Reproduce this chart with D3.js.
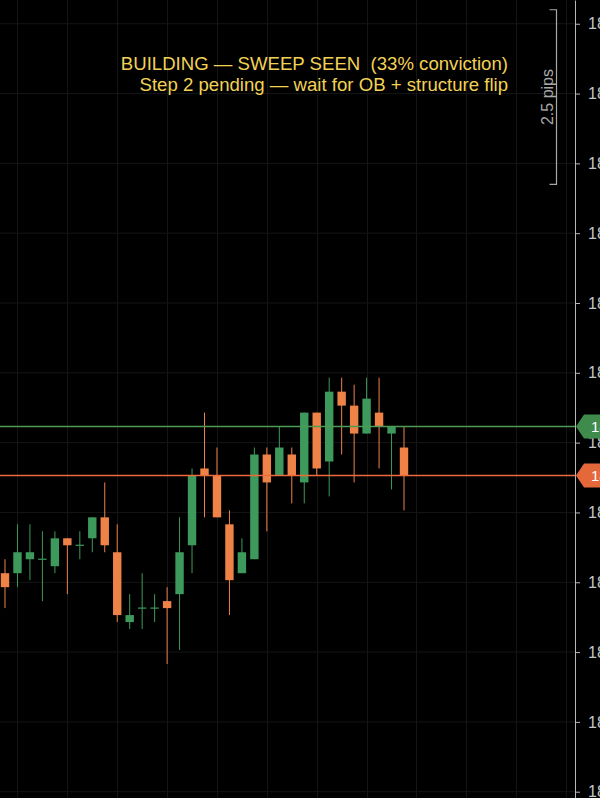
<!DOCTYPE html>
<html>
<head>
<meta charset="utf-8">
<script src="https://cdn.jsdelivr.net/npm/d3@7"></script>
<style>
  html, body { margin: 0; padding: 0; background: #000; }
  svg { display: block; }
</style>
</head>
<body>
<svg id="chart"></svg>
<script>
// candle data (price), oldest first
var opens  = [185.391,185.391,185.393,185.393,185.392,185.396,185.395,185.396,185.399,185.394,185.384,185.386,185.386,185.387,185.388,185.395,185.406,185.405,185.398,185.391,185.393,185.408,185.405,185.408,185.404,185.414,185.407,185.417,185.415,185.411,185.414,185.411,185.409];
var highs  = [185.393,185.398,185.398,185.397,185.397,185.396,185.397,185.399,185.404,185.398,185.388,185.391,185.388,185.389,185.399,185.406,185.414,185.409,185.400,185.396,185.409,185.409,185.412,185.409,185.414,185.414,185.419,185.419,185.418,185.419,185.419,185.412,185.412];
var lows   = [185.386,185.389,185.390,185.387,185.391,185.388,185.393,185.394,185.394,185.384,185.383,185.383,185.384,185.378,185.380,185.391,185.399,185.399,185.385,185.391,185.393,185.397,185.405,185.401,185.401,185.405,185.402,185.408,185.404,185.411,185.406,185.403,185.400];
var closes = [185.389,185.394,185.394,185.393,185.396,185.395,185.395,185.399,185.395,185.385,185.385,185.386,185.386,185.386,185.394,185.405,185.405,185.399,185.390,185.394,185.408,185.404,185.409,185.405,185.414,185.406,185.417,185.415,185.411,185.416,185.412,185.412,185.405];

var priceTicks = [185.3597,185.3697,185.3797,185.3897,185.3997,185.4097,185.4197,185.4297,185.4397,185.4497,185.4597,185.4697];
var levels = [185.412, 185.405];          // green, orange reference lines
var pipRange = [185.4717, 185.4467];      // 2.5 pips bracket
var titleLines = ["BUILDING \u2014 SWEEP SEEN  (33% conviction)", "Step 2 pending \u2014 wait for OB + structure flip"];

var width = 600, height = 798;
var up = "#3d9a5c", down = "#ee8247";
var lineUp = "#4e9a56", lineDown = "#ec6a3d";

var svg = d3.select("#chart").attr("width", width).attr("height", height)
  .style("background-color", "#000");

var y = d3.scaleLinear().domain([185.3588, 185.4731]).range([height, 0]);
var x = d3.scaleLinear().domain([0, 32]).range([5, 404]);
var axisX = 575;

// grid
var gridIdx = d3.range(1, 46, 4);
svg.append("g").selectAll("line").data(gridIdx).enter().append("line")
  .attr("x1", function(d){return Math.round(x(d)) + 0.5}).attr("x2", function(d){return Math.round(x(d)) + 0.5})
  .attr("y1", 0).attr("y2", height)
  .style("stroke", "#151515").style("stroke-width", 1);
svg.append("g").selectAll("line").data(priceTicks).enter().append("line")
  .attr("x1", 0).attr("x2", axisX)
  .attr("y1", function(d){return y(d)}).attr("y2", function(d){return y(d)})
  .style("stroke", "#151515").style("stroke-width", 1);

// candles
var candles = opens.map(function(o, i){
  return {i: i, o: o, h: highs[i], l: lows[i], c: closes[i]};
});
var bw = 8.4;
var g = svg.append("g");
g.selectAll("line.wick").data(candles).enter().append("line")
  .attr("class", "wick")
  .attr("x1", function(d){return x(d.i)}).attr("x2", function(d){return x(d.i)})
  .attr("y1", function(d){return y(d.h)}).attr("y2", function(d){return y(d.l)})
  .style("stroke", function(d){return d.c >= d.o ? up : down})
  .style("stroke-width", 1);
g.selectAll("rect").data(candles).enter().append("rect")
  .attr("x", function(d){return x(d.i) - bw / 2})
  .attr("y", function(d){return d.c === d.o ? y(d.o) - 0.6 : y(Math.max(d.o, d.c))})
  .attr("width", bw)
  .attr("height", function(d){return d.c === d.o ? 1.2 : Math.abs(y(d.o) - y(d.c))})
  .style("fill", function(d){return d.c >= d.o ? up : down});

// reference lines
svg.append("g").selectAll("line").data(levels).enter().append("line")
  .attr("x1", 0).attr("x2", axisX)
  .attr("y1", function(d){return y(d)}).attr("y2", function(d){return y(d)})
  .style("stroke", function(d, i){return i === 0 ? lineUp : lineDown})
  .style("stroke-width", 1.5);

// price axis
var axis = svg.append("g").attr("transform", "translate(" + axisX + ",0)")
  .call(d3.axisRight(y).tickValues(priceTicks).tickSize(5).tickSizeOuter(0).tickPadding(8).tickFormat(d3.format(".2f")));
axis.select(".domain").style("stroke", "#b8b8b8");
axis.selectAll(".tick line").style("stroke", "#b8b8b8");
axis.selectAll(".tick text").style("fill", "#c4c4c4").style("font-family", "'Liberation Sans', Arial, sans-serif").style("font-size", "16px");

// price tags
var tags = svg.append("g").selectAll("g").data(levels).enter().append("g")
  .attr("transform", function(d){return "translate(" + (axisX + 1) + "," + y(d) + ")"});
tags.append("path")
  .attr("d", "M0,0 L8,-12 L40,-12 L40,12 L8,12 Z")
  .style("fill", function(d, i){return i === 0 ? "#3f8b4b" : "#e5683b"});
tags.append("text")
  .attr("x", 15).attr("y", 5.5)
  .text(function(d){return d3.format(".3f")(d)})
  .style("fill", "#fff").style("font-family", "'Liberation Sans', Arial, sans-serif").style("font-size", "15px");

// 2.5 pips bracket
var bx = 556.5;
svg.append("path")
  .attr("d", "M" + (bx - 7) + "," + y(pipRange[0]) + " H" + bx + " V" + y(pipRange[1]) + " H" + (bx - 7))
  .style("fill", "none").style("stroke", "#a8a8a8").style("stroke-width", 1.2);
var midY = (y(pipRange[0]) + y(pipRange[1])) / 2;
svg.append("text")
  .attr("transform", "translate(" + 553 + "," + midY + ") rotate(-90)")
  .attr("text-anchor", "middle")
  .text("2.5 pips")
  .style("fill", "#a8a8a8").style("font-family", "'Liberation Sans', Arial, sans-serif").style("font-size", "16px");

// status text
svg.append("g").selectAll("text").data(titleLines).enter().append("text")
  .attr("x", 508).attr("y", function(d, i){return 69.5 + i * 21})
  .attr("text-anchor", "end")
  .style("white-space", "pre")
  .text(function(d){return d})
  .style("fill", "#f2d256").style("font-family", "'Liberation Sans', Arial, sans-serif").style("font-size", "18.6px");
</script>
</body>
</html>
